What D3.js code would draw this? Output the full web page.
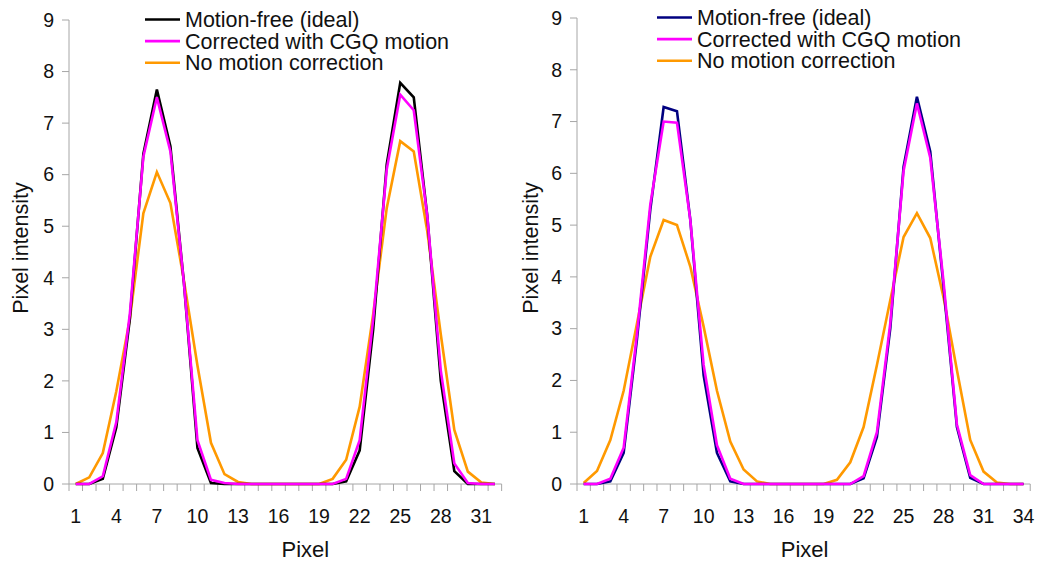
<!DOCTYPE html>
<html lang="en">
<head>
    <meta charset="UTF-8">
    <title>Pixel profiles</title>
    <script src="https://d3js.org/d3.v7.min.js"></script>
    <style>
        body { margin: 0; background: #fff; }
        svg { display: block; font-family: "Liberation Sans", Arial, sans-serif; }
    </style>
</head>
<body>
<div id="chart"></div>

<script>
    // values
    const pixelsLeft = d3.range(1, 33);
    const pixelsRight = d3.range(1, 35);
    const yTicks = d3.range(0, 10);

    const seriesNames = ["Motion-free (ideal)", "Corrected with CGQ motion", "No motion correction"];

    const idealLeft = [0, 0, 0.1, 1.1, 3.2, 6.4, 7.65, 6.55, 3.9, 0.7, 0.02, 0, 0, 0, 0, 0,
        0, 0, 0, 0, 0.05, 0.65, 3.0, 6.2, 7.78, 7.5, 5.2, 2.0, 0.25, 0, 0, 0];
    const cgqLeft = [0, 0, 0.15, 1.2, 3.3, 6.35, 7.5, 6.45, 3.9, 0.85, 0.08, 0.02, 0, 0, 0, 0,
        0, 0, 0, 0, 0.1, 0.85, 3.2, 6.1, 7.55, 7.25, 5.2, 2.2, 0.4, 0.02, 0, 0];
    const noCorrLeft = [0, 0.13, 0.6, 1.8, 3.2, 5.25, 6.05, 5.45, 3.95, 2.3, 0.8, 0.19, 0.04, 0, 0, 0,
        0, 0, 0, 0.1, 0.47, 1.5, 3.3, 5.35, 6.65, 6.45, 4.9, 2.9, 1.05, 0.24, 0.03, 0];

    const idealRight = [0, 0, 0.05, 0.6, 2.8, 5.3, 7.28, 7.2, 5.1, 2.1, 0.6, 0.05, 0, 0, 0, 0, 0,
        0, 0, 0, 0, 0.11, 0.91, 3.0, 6.13, 7.48, 6.42, 3.8, 1.1, 0.12, 0, 0, 0, 0];
    const cgqRight = [0, 0, 0.1, 0.7, 2.9, 5.4, 7.0, 6.98, 5.1, 2.3, 0.75, 0.1, 0, 0, 0, 0, 0,
        0, 0, 0, 0, 0.15, 1.0, 3.1, 6.05, 7.35, 6.3, 3.9, 1.15, 0.17, 0, 0, 0, 0];
    const noCorrRight = [0.02, 0.25, 0.85, 1.8, 3.1, 4.39, 5.1, 5.0, 4.2, 3.04, 1.8, 0.82, 0.28, 0.05, 0, 0, 0,
        0, 0, 0.08, 0.42, 1.1, 2.3, 3.55, 4.77, 5.23, 4.75, 3.6, 2.2, 0.85, 0.24, 0.03, 0, 0];

    const svg = d3.select("#chart").append("svg")
        .attr("width", 1038)
        .attr("height", 561);

    const axisColor = "#a6a6a6";

    function drawPanel(opts) {
        let g = svg.append("g");

        let x = d3.scaleBand()
            .domain(opts.pixels)
            .range([opts.left, opts.right]);
        let cx = d => x(d) + x.bandwidth() / 2;

        let y = d3.scaleLinear()
            .domain([0, 9])
            .range([484, opts.top]);

        // y axis
        g.append("line")
            .attr("x1", opts.left).attr("x2", opts.left)
            .attr("y1", y(9)).attr("y2", y(0))
            .attr("stroke", axisColor).attr("stroke-width", 1);

        g.selectAll(".ytick")
            .data(yTicks)
            .enter()
            .append("line")
            .attr("x1", opts.left - 7).attr("x2", opts.left)
            .attr("y1", d => y(d)).attr("y2", d => y(d))
            .attr("stroke", axisColor);

        g.selectAll(".ylabel")
            .data(yTicks)
            .enter()
            .append("text")
            .attr("x", opts.left - 15)
            .attr("y", d => y(d))
            .attr("dy", "0.35em")
            .attr("text-anchor", "end")
            .attr("font-size", "19.5px")
            .attr("fill", "#111")
            .text(d => d);

        // x axis, ticks between categories
        g.append("line")
            .attr("x1", opts.left).attr("x2", opts.right)
            .attr("y1", y(0)).attr("y2", y(0))
            .attr("stroke", axisColor);

        let bounds = opts.pixels.map(p => x(p)).concat([opts.right]);
        g.selectAll(".xtick")
            .data(bounds)
            .enter()
            .append("line")
            .attr("x1", d => d).attr("x2", d => d)
            .attr("y1", y(0)).attr("y2", y(0) + 7)
            .attr("stroke", axisColor);

        g.selectAll(".xlabel")
            .data(opts.pixels.filter(p => (p - 1) % 3 === 0))
            .enter()
            .append("text")
            .attr("x", d => cx(d))
            .attr("y", 523)
            .attr("text-anchor", "middle")
            .attr("font-size", "19.5px")
            .attr("fill", "#111")
            .text(d => d);

        // titles
        g.append("text")
            .attr("x", (opts.left + opts.right) / 2 + opts.xTitleShift)
            .attr("y", 557)
            .attr("text-anchor", "middle")
            .attr("font-size", "22px")
            .attr("fill", "#111")
            .text("Pixel");

        g.append("text")
            .attr("transform", `translate(${opts.yTitleX},248) rotate(-90)`)
            .attr("text-anchor", "middle")
            .attr("font-size", "21.5px")
            .attr("fill", "#111")
            .text("Pixel intensity");

        // lines
        let line = d3.line()
            .x((d, i) => cx(opts.pixels[i]))
            .y(d => y(d));

        // orange underneath, ideal, then magenta on top
        let order = [2, 0, 1];
        order.forEach(k => {
            g.append("path")
                .datum(opts.series[k])
                .attr("fill", "none")
                .attr("stroke", opts.colors[k])
                .attr("stroke-width", 2.6)
                .attr("stroke-linejoin", "miter")
                .attr("d", line);
        });

        // legend
        seriesNames.forEach((name, i) => {
            let ly = opts.legendY + i * 21.6;
            g.append("line")
                .attr("x1", opts.legendX).attr("x2", opts.legendX + 35)
                .attr("y1", ly).attr("y2", ly)
                .attr("stroke", opts.colors[i])
                .attr("stroke-width", 2.6);
            g.append("text")
                .attr("x", opts.legendX + 40)
                .attr("y", ly + 7.5)
                .attr("font-size", "21.5px")
                .attr("fill", "#111")
                .text(name);
        });
    }

    drawPanel({
        pixels: pixelsLeft,
        series: [idealLeft, cgqLeft, noCorrLeft],
        colors: ["#000000", "#ff00ff", "#ff9900"],
        left: 69, right: 69 + 32 * 13.52, top: 20,
        yTitleX: 28, xTitleShift: 20,
        legendX: 145, legendY: 19.5
    });

    drawPanel({
        pixels: pixelsRight,
        series: [idealRight, cgqRight, noCorrRight],
        colors: ["#000080", "#ff00ff", "#ff9900"],
        left: 577, right: 577 + 34 * 13.33, top: 18,
        yTitleX: 538, xTitleShift: 1,
        legendX: 657, legendY: 17.5
    });
</script>

</body>
</html>
